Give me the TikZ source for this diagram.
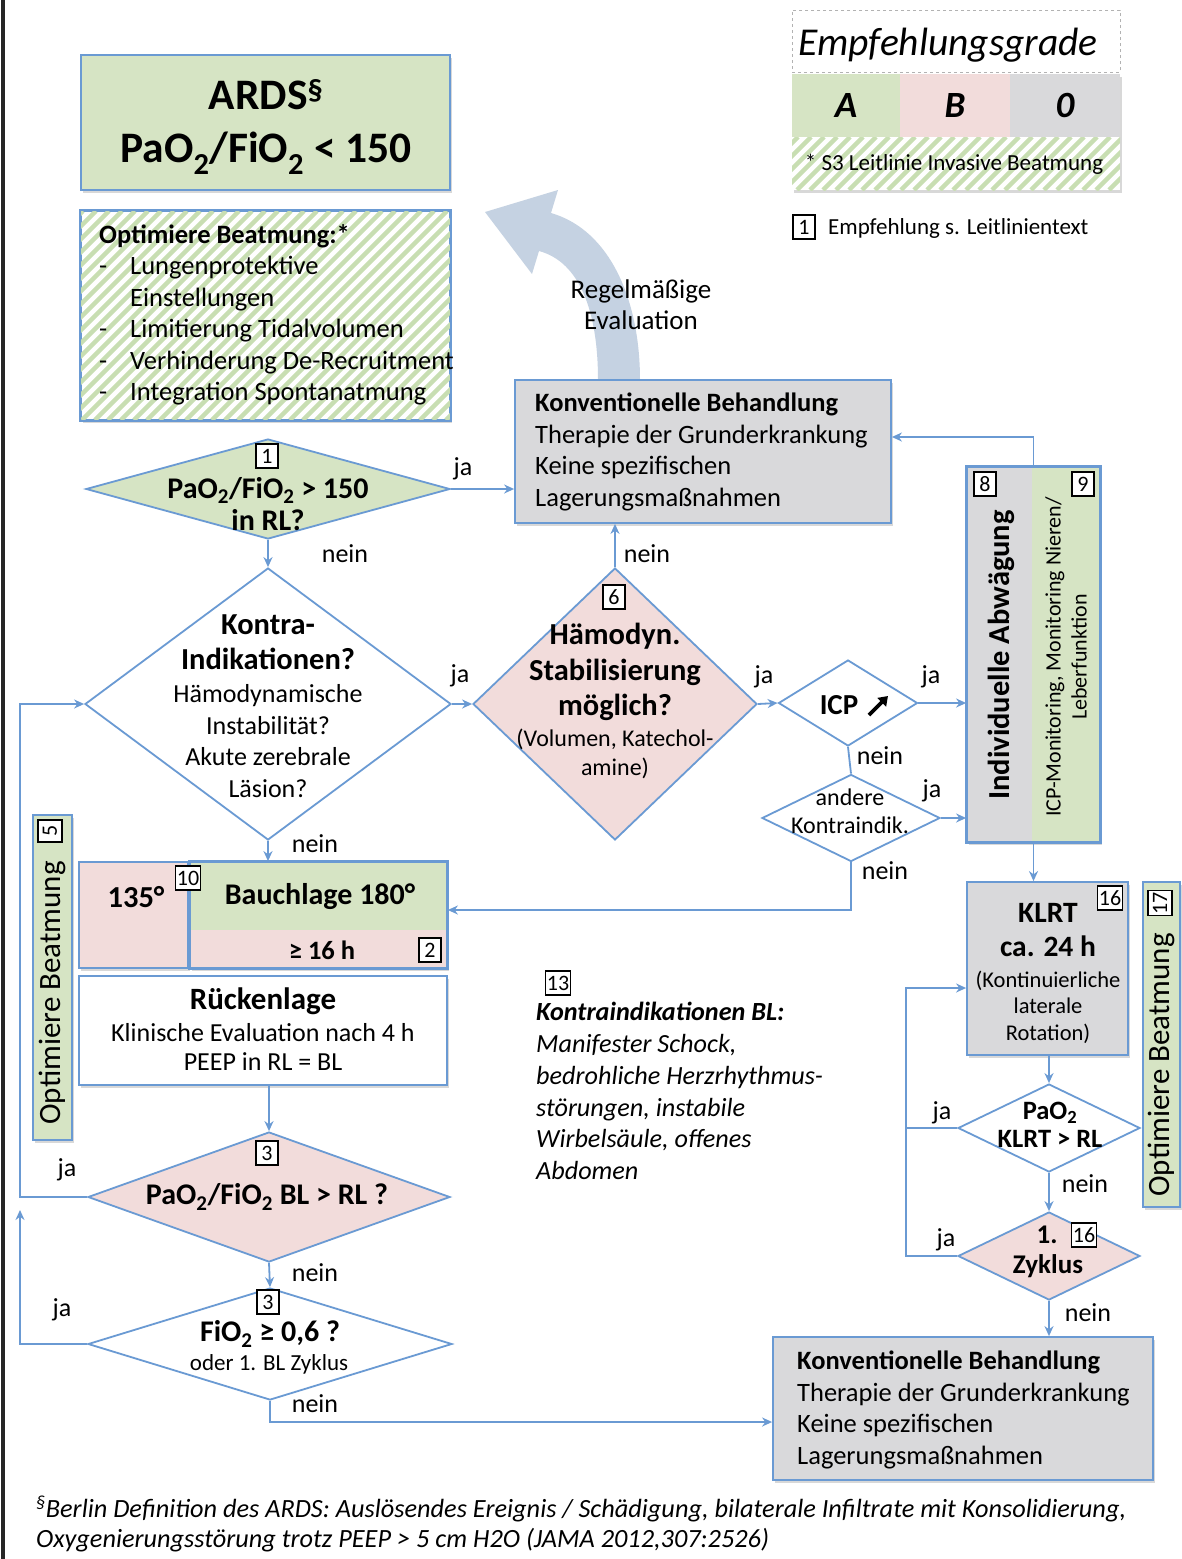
\documentclass[tikz,border=0pt]{standalone}
\usepackage{fontspec}
\setmainfont{Carlito}
\usetikzlibrary{shapes.geometric,arrows.meta,shadows,calc}
\definecolor{bl}{HTML}{6A9AD3}
\definecolor{gfill}{HTML}{D6E4C4}
\definecolor{pfill}{HTML}{F2DCDB}
\definecolor{grfill}{HTML}{D9D9DB}
\definecolor{hatchc}{HTML}{C8DEB2}
\definecolor{evalc}{HTML}{C5D2E2}
\newcommand\subs[1]{\textsubscript{#1}}
\newcommand\fs[2]{\fontsize{#1}{#2}\selectfont}
\begin{document}
\begin{tikzpicture}[x=1pt,y=-1pt,
 bx/.style={draw=bl,line width=1.8pt,inner sep=0pt,drop shadow={opacity=0.3,shadow xshift=2pt,shadow yshift=-3pt}},
 dia/.style={diamond,draw=bl,line width=1.8pt,inner sep=0pt},
 arw/.style={draw=bl,line width=1.8pt,-{Stealth[length=10pt,width=9pt]}},
 lnn/.style={draw=bl,line width=1.8pt},
 numb/.style={draw=black,fill=white,line width=1.3pt,inner sep=1.5pt,minimum width=22pt,minimum height=24pt,font=\fs{22}{22}},
 ynl/.style={inner sep=0pt,font=\fs{26}{26},text height=18pt,text depth=6pt},
 txt/.style={inner sep=0pt},
]
\useasboundingbox (0,0) rectangle (1182,1559);
\fill[white] (0,0) rectangle (1182,1559);
% left border
\draw[line width=3.5pt,black!85] (3,0) -- (3,1559);

% ---------- legend ----------
\node[draw=black!30,dashed,line width=0.8pt,minimum width=328pt,minimum height=62pt,inner sep=0pt] (leghead) at (956,41) {};
\node[txt,font=\itshape\fs{39.5}{40}] (legt) at (948,45) {Empfehlungsgrade};
\node[fill=white,minimum width=328pt,minimum height=116pt,inner sep=0pt,drop shadow={opacity=0.3,shadow xshift=2pt,shadow yshift=-3pt}] (legbg) at (956,132) {};
\node[fill=gfill,minimum width=108pt,minimum height=63pt,inner sep=0pt,font=\bfseries\itshape\fs{37}{37}] (ga) at (846,105.5) {A};
\node[fill=pfill,minimum width=110pt,minimum height=63pt,inner sep=0pt,font=\bfseries\itshape\fs{37}{37}] (gb) at (955,105.5) {B};
\node[fill=grfill,minimum width=110pt,minimum height=63pt,inner sep=0pt,font=\bfseries\itshape\fs{37}{37}] (g0) at (1065,105.5) {0};
\begin{scope}
\clip (792,137) rectangle (1120,190);
\foreach \i in {-60,-47,...,340} \draw[hatchc,line width=4.5pt] ({792+\i},190) -- ({792+\i+53},137);
\end{scope}
\node[txt,font=\fs{23}{23}] (legs) at (954,164) {* S3 Leitlinie Invasive Beatmung};
\node[numb] (leg1) at (804,227) {1};
\node[txt,anchor=west,font=\fs{23}{23}] (legtxt) at (828,228) {Empfehlung s. Leitlinientext};

% ---------- ARDS ----------
\node[bx,fill=gfill,minimum width=369pt,minimum height=135pt] (ards) at (265.5,122.5) {};
\node[txt,align=center,font=\bfseries\fs{43.5}{53}] (ardst) at (266,127) {ARDS\textsuperscript{\S}\\PaO\subs{2}/FiO\subs{2} < 150};

% ---------- Optimize box ----------
\node[bx,fill=white,minimum width=369pt,minimum height=209pt] (opt) at (265.5,315.5) {};
\begin{scope}
\clip (81,211) rectangle (450,420);
\foreach \i in {-220,-207,...,380} \draw[hatchc,line width=4.5pt] ({81+\i},420) -- ({81+\i+209},211);
\end{scope}
\draw[bl,line width=1.8pt] (opt.north west) rectangle (opt.south east);
\node[txt,anchor=north west,font=\fs{26.5}{31.5}] (optt) at (99,221) {\begin{tabular}{@{}p{31pt}@{}l@{}}
\multicolumn{2}{@{}l@{}}{\bfseries Optimiere Beatmung:*}\\
- & Lungenprotektive\\
 & Einstellungen\\
- & Limitierung Tidalvolumen\\
- & Verhinderung De-Recruitment\\
- & Integration Spontanatmung
\end{tabular}};

% ---------- curved evaluation arrow ----------
\fill[evalc] (551,213) .. controls (610,230) and (640,300) .. (640,380)
  -- (598,380) .. controls (598,312) and (580,262) .. (539,251)
  -- (532,274) -- (485,212) -- (558,190) -- cycle;
\node[txt,align=center,font=\fs{27}{31}] (evalt) at (641,305) {Regelmäßige\\Evaluation};

% ---------- Konventionelle Behandlung 1 ----------
\node[bx,fill=grfill,minimum width=376pt,minimum height=143pt] (konv1) at (703,451.5) {};
\node[txt,anchor=north west,align=left,font=\fs{26.5}{31.5}] (konv1t) at (535,393) {\textbf{Konventionelle Behandlung}\\Therapie der Grunderkrankung\\Keine spezifischen\\Lagerungsmaßnahmen};

% ---------- Diamond 1 ----------
\node[dia,fill=gfill,minimum width=364pt,minimum height=100pt] (d1) at (268,489) {};
\node[numb] (n1) at (267,456) {1};
\node[txt,align=center,font=\bfseries\fs{30}{32}] (d1t) at (268,504) {PaO\subs{2}/FiO\subs{2} > 150\\in RL?};

% ---------- Diamond 2 (Kontra) ----------
\node[dia,fill=white,minimum width=366pt,minimum height=272pt] (d2) at (268,704) {};
\node[txt,align=center,font=\bfseries\fs{30.5}{35}] (d2a) at (268,642) {Kontra-\\Indikationen?};
\node[txt,align=center,font=\fs{26}{31.5}] (d2b) at (268,741) {Hämodynamische\\Instabilität?\\Akute zerebrale\\Läsion?};

% ---------- Diamond 6 ----------
\node[dia,fill=pfill,minimum width=284pt,minimum height=272pt] (d6) at (615,704) {};
\node[numb] (n6) at (614,597) {6};
\node[txt,align=center,font=\bfseries\fs{30.5}{35.5}] (d6a) at (615,672) {Hämodyn.\\Stabilisierung\\möglich?};
\node[txt,align=center,font=\fs{24}{29}] (d6b) at (615,754) {(Volumen, Katechol-\\amine)};

% ---------- ICP diamond ----------
\node[dia,fill=white,minimum width=139pt,minimum height=86pt] (dicp) at (848,703) {};
\node[txt,font=\bfseries\fs{29}{29}] (dicpt) at (839,705) {ICP};
\draw[black,line width=3.6pt,-{Triangle[length=9pt,width=12pt]}] (869,715) -- (888,696);

% ---------- andere Kontraindik. diamond ----------
\node[dia,fill=white,minimum width=178pt,minimum height=87pt] (dand) at (851,818) {};
\node[txt,align=center,font=\fs{24}{28}] (dandt) at (850,811) {andere\\Kontraindik.};

% ---------- Individuelle Abwaegung ----------
\node[bx,fill=grfill,minimum width=133pt,minimum height=375pt] (indiv) at (1033.5,654.5) {};
\fill[gfill] (1032,468) rectangle (1099,841);
\draw[bl,line width=1.8pt] (indiv.north west) rectangle (indiv.south east);
\node[numb] (n8) at (985,484) {8};
\node[numb] (n9) at (1083,484) {9};
\node[txt,rotate=90,font=\bfseries\fs{30.5}{30}] (indivt) at (1001,655) {Individuelle Abwägung};
\node[txt,rotate=90,align=center,font=\fs{22}{26}] (icpmon) at (1066,657) {ICP-Monitoring, Monitoring Nieren/\\Leberfunktion};

% ---------- Bauchlage ----------
\node[bx,fill=pfill,minimum width=109pt,minimum height=106pt] (b135) at (133.5,915) {};
\node[txt,font=\bfseries\fs{30.5}{30}] (b135t) at (136,897) {135°};
\node[bx,fill=gfill,minimum width=257pt,minimum height=106pt] (bauch) at (318.5,915) {};
\fill[pfill] (191,930) rectangle (446,967);
\draw[bl,line width=1.8pt] (bauch.north west) rectangle (bauch.south east);
\node[numb] (n10) at (188,878) {10};
\node[txt,font=\bfseries\fs{30}{30}] (baucht) at (320,897) {Bauchlage 180°};
\node[txt,font=\bfseries\fs{26.5}{26}] (bauchh) at (322,950) {≥ 16 h};
\node[numb] (n2) at (430,950) {2};

% ---------- Rueckenlage ----------
\node[bx,fill=white,minimum width=368pt,minimum height=109pt] (rueck) at (263,1030.5) {};
\node[txt,font=\bfseries\fs{31}{30}] (ruecka) at (263,1001) {Rückenlage};
\node[txt,align=center,font=\fs{26}{29}] (rueckb) at (263,1047) {Klinische Evaluation nach 4 h\\PEEP in RL = BL};

% ---------- Diamond 3a ----------
\node[dia,fill=pfill,minimum width=362pt,minimum height=130pt] (d3a) at (269,1197) {};
\node[numb] (n3a) at (267,1153) {3};
\node[txt,font=\bfseries\fs{30}{30}] (d3at) at (267,1197) {PaO\subs{2}/FiO\subs{2} BL > RL ?};

% ---------- Diamond 3b ----------
\node[dia,fill=white,minimum width=364pt,minimum height=112pt] (d3b) at (270,1344) {};
\node[numb] (n3b) at (268,1302) {3};
\node[txt,font=\bfseries\fs{30}{30}] (d3bt) at (270,1334) {FiO\subs{2} ≥ 0,6 ?};
\node[txt,font=\fs{23}{23}] (d3bs) at (269,1364) {oder 1. BL Zyklus};

% ---------- Optimiere Beatmung (left) ----------
\node[bx,fill=gfill,minimum width=39pt,minimum height=325pt] (optl) at (52.5,977.5) {};
\node[txt,rotate=90,font=\fs{31}{31}] (optlt) at (52,993) {Optimiere Beatmung};
\node[numb,rotate=90] (n5) at (50,831) {5};

% ---------- Kontraindikationen BL text ----------
\node[numb] (n13) at (558,983) {13};
\node[txt,anchor=north west,align=left,font=\itshape\fs{26.2}{31.8}] (kibl) at (536,1002) {\textbf{Kontraindikationen BL:}\\Manifester Schock,\\bedrohliche Herzrhythmus-\\störungen, instabile\\Wirbelsäule, offenes\\Abdomen};

% ---------- KLRT ----------
\node[bx,fill=grfill,minimum width=161pt,minimum height=173pt] (klrt) at (1047.5,968.5) {};
\node[numb] (n16a) at (1110,898) {16};
\node[txt,align=center,font=\bfseries\fs{29.5}{34}] (klrta) at (1048,930) {KLRT\\ca. 24 h};
\node[txt,align=center,font=\fs{22.5}{26.5}] (klrtb) at (1048,1007) {(Kontinuierliche\\laterale\\Rotation)};

% ---------- PaO2 KLRT diamond ----------
\node[dia,fill=white,minimum width=182pt,minimum height=88pt] (dp) at (1049,1128) {};
\node[txt,align=center,font=\bfseries\fs{26.5}{28}] (dpt) at (1050,1125) {PaO\subs{2}\\KLRT > RL};

% ---------- Zyklus diamond ----------
\node[dia,fill=pfill,minimum width=182pt,minimum height=88pt] (dz) at (1049,1256) {};
\node[txt,font=\bfseries\fs{27}{27}] (dza) at (1047,1235) {1.};
\node[numb] (n16b) at (1084,1235) {16};
\node[txt,font=\bfseries\fs{27}{27}] (dzb) at (1048,1266) {Zyklus};

% ---------- Optimiere Beatmung (right) ----------
\node[bx,fill=gfill,minimum width=37pt,minimum height=325pt] (optr) at (1161.5,1044.5) {};
\node[txt,rotate=90,font=\fs{31}{31}] (optrt) at (1161,1065) {Optimiere Beatmung};
\node[numb,rotate=90] (n17) at (1160,903) {17};

% ---------- Konventionelle Behandlung 2 ----------
\node[bx,fill=grfill,minimum width=380pt,minimum height=143pt] (konv2) at (963,1408.5) {};
\node[txt,anchor=north west,align=left,font=\fs{26.5}{31.5}] (konv2t) at (797,1351) {\textbf{Konventionelle Behandlung}\\Therapie der Grunderkrankung\\Keine spezifischen\\Lagerungsmaßnahmen};

% ---------- connectors ----------
\draw[arw] (d1.east) -- (konv1.west |- d1.east);
\draw[arw] (d1.south) -- (d2.north);
\draw[arw] (d2.east) -- (d6.west);
\draw[arw] (d2.south) -- (d2.south |- bauch.north);
\draw[arw] (d6.north) -- (d6.north |- konv1.south);
\draw[arw] (d6.east) -- (dicp.west);
\draw[arw] (dicp.east) -- (indiv.west |- dicp.east);
\draw[lnn] (dicp.south) -- (dand.north);
\draw[arw] (dand.east) -- (indiv.west |- dand.east);
\draw[arw] (dand.south) -- (dand.south |- 0,910) -- (bauch.east |- 0,910);
\draw[arw] (indiv.north) -- (indiv.north |- 0,437) -- (konv1.east |- 0,437);
\draw[arw] (indiv.south) -- (indiv.south |- klrt.north);
\draw[arw] (rueck.south -| d3a.north) -- (d3a.north);
\draw[arw] (d3a.west) -- (20,1197) -- (20,704) -- (d2.west);
\draw[arw] (d3a.south) -- (d3b.north);
\coordinate (loopend) at (20,1210);
\draw[arw] (d3b.west) -- (20,1344) -- (loopend);
\draw[arw] (d3b.south) -- (270,1422) -- (konv2.west |- 0,1422);
\draw[arw] (klrt.south -| dp.north) -- (dp.north);
\draw[arw] (dp.south) -- (dz.north);
\draw[lnn] (dp.west) -- (906,1128);
\draw[arw] (dz.west) -- (906,1256) -- (906,988) -- (klrt.west |- 0,988);
\draw[arw] (dz.south) -- (dz.south |- konv2.north);

% ---------- ja / nein labels ----------
\node[ynl] (l1) at (463,469) {ja};
\node[ynl] (l2) at (345,556) {nein};
\node[ynl] (l3) at (460,676) {ja};
\node[ynl] (l4) at (315,846) {nein};
\node[ynl] (l5) at (647,556) {nein};
\node[ynl] (l6) at (764,677) {ja};
\node[ynl] (l7) at (931,677) {ja};
\node[ynl] (l8) at (880,758) {nein};
\node[ynl] (l9) at (932,791) {ja};
\node[ynl] (l10) at (885,873) {nein};
\node[ynl] (l11) at (67,1170) {ja};
\node[ynl] (l12) at (315,1275) {nein};
\node[ynl] (l13) at (62,1310) {ja};
\node[ynl] (l14) at (315,1406) {nein};
\node[ynl] (l15) at (942,1113) {ja};
\node[ynl] (l16) at (1085,1186) {nein};
\node[ynl] (l17) at (946,1240) {ja};
\node[ynl] (l18) at (1088,1315) {nein};

% ---------- footnote ----------
\node[txt,anchor=west,font=\itshape\fs{26.3}{26}] (fn1) at (36,1509) {\textsuperscript{\S}Berlin Definition des ARDS: Auslösendes Ereignis / Schädigung, bilaterale Infiltrate mit Konsolidierung,};
\node[txt,anchor=west,font=\itshape\fs{26.3}{26}] (fn2) at (36,1540) {Oxygenierungsstörung trotz PEEP > 5 cm H2O (JAMA 2012,307:2526)};
\end{tikzpicture}
\end{document}
